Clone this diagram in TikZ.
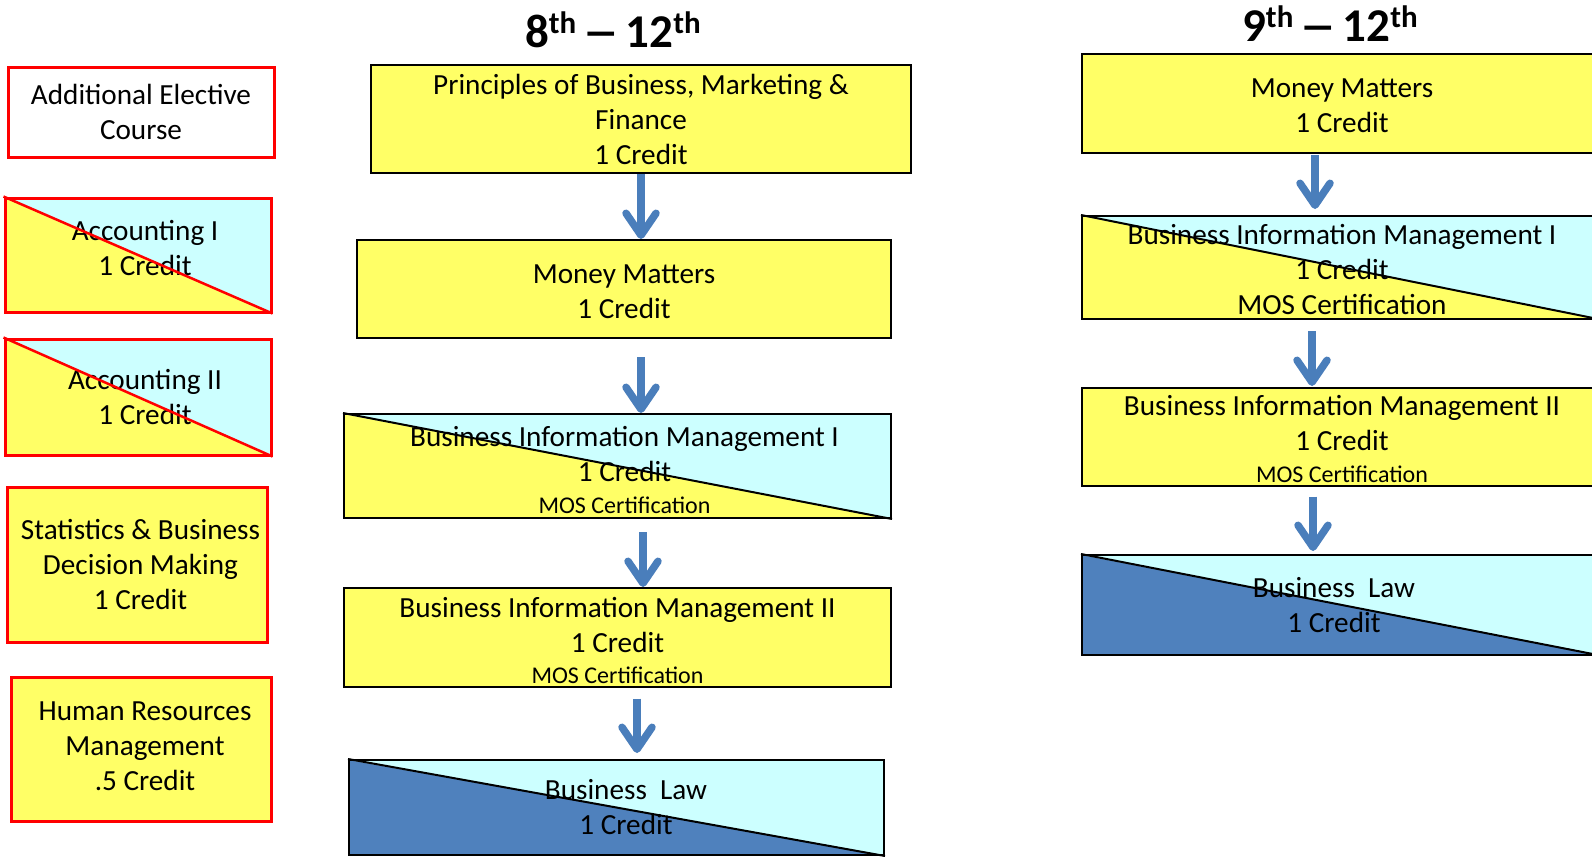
\documentclass[tikz,border=0pt]{standalone}
\usepackage{fontspec}
\setmainfont{Carlito}
\usetikzlibrary{arrows.meta}
\definecolor{yfill}{HTML}{FFFF66}
\definecolor{cfill}{HTML}{CCFFFF}
\definecolor{bfill}{HTML}{4F81BD}
\definecolor{arrowblue}{HTML}{4A7EBB}
\definecolor{redline}{HTML}{FF0000}
\newcommand\mainsz{\fontsize{29.2}{35}\selectfont}
\newcommand\smallsz{\fontsize{24}{29}\selectfont}
\newcommand\supth{\raisebox{14pt}{\fontsize{31}{33}\selectfont th}}
\newcommand\tdash{\hspace{6pt}\scalebox{1.6}[1]{–}\hspace{6pt}}
\begin{document}
\begin{tikzpicture}[x=1pt,y=-1pt,
  box/.style={draw=black, line width=2pt, fill=yfill, align=center, font=\mainsz, inner sep=0pt},
  redbox/.style={box, draw=redline, line width=3pt},
  halfcyan/.style={path picture={\fill[cfill] (path picture bounding box.north west) -- (path picture bounding box.north east) -- (path picture bounding box.south east) -- cycle;}},
  flow/.style={draw=arrowblue, line width=7.5pt, -{Straight Barb[length=22pt,width=30pt,line width=7.5pt,round]}},
  title/.style={font=\bfseries\fontsize{47}{56}\selectfont, anchor=base, inner sep=0pt},
  diag/.style={line width=2pt},
  rdiag/.style={line width=2.5pt, draw=redline},
]
\clip (0,0) rectangle (1592,857);
\fill[white] (0,0) rectangle (1592,857);

% titles
\node[title] (t1) at (613,47) {8\supth\tdash12\supth};
\node[title] (t2) at (1330,41) {9\supth\tdash12\supth};

% left column
\node[redbox, fill=white, minimum width=266pt, minimum height=90pt] (ae) at (141,112) {Additional Elective\\Course};
\node[redbox, halfcyan, minimum width=266pt, minimum height=114pt] (acc1) at (138,255) {\hspace*{14pt}Accounting I\\\hspace*{14pt}1 Credit\rule[-14pt]{0pt}{14pt}};
\node[redbox, halfcyan, minimum width=266pt, minimum height=116pt] (acc2) at (138,397) {\hspace*{14pt}Accounting II\\\hspace*{14pt}1 Credit};
\node[redbox, minimum width=260pt, minimum height=155pt] (stat) at (137,564.5) {\hspace*{7pt}Statistics \& Business\\\hspace*{7pt}Decision Making\\\hspace*{7pt}1 Credit};
\node[redbox, minimum width=260pt, minimum height=144pt] (hr) at (141,749) {\hspace*{8pt}Human Resources\\\hspace*{8pt}Management\\\hspace*{8pt}.5 Credit\rule[-6pt]{0pt}{6pt}};

% middle column
\node[box, minimum width=540pt, minimum height=108pt] (p1) at (641,119) {Principles of Business, Marketing \&\\Finance\\1 Credit};
\node[box, minimum width=534pt, minimum height=98pt] (mm) at (624,289) {\rule{0pt}{24.8pt}Money Matters\\1 Credit};
\node[box, halfcyan, minimum width=547pt, minimum height=104pt] (bim1) at (617.5,466) {\rule{0pt}{27.7pt}\hspace*{14pt}Business Information Management I\\\hspace*{14pt}1 Credit\\[-3.5pt]\hspace*{14pt}{\smallsz MOS Certification}};
\node[box, minimum width=547pt, minimum height=99pt] (bim2) at (617.5,637.5) {\rule{0pt}{25.7pt}Business Information Management II\\1 Credit\\[-3.5pt]{\smallsz MOS Certification}};
\node[box, fill=bfill, halfcyan, minimum width=535pt, minimum height=95pt] (bl1) at (616.5,807.5) {\hspace*{19pt}Business\ \ Law\\\hspace*{19pt}1 Credit};

% right column
\node[box, minimum width=520pt, minimum height=99pt] (mm2) at (1342,103.5) {\rule{0pt}{23.8pt}Money Matters\\1 Credit};
\node[box, halfcyan, minimum width=520pt, minimum height=103pt] (bim1r) at (1342,267.5) {\rule{0pt}{24.7pt}Business Information Management I\\1 Credit\\MOS Certification};
\node[box, minimum width=520pt, minimum height=98pt] (bim2r) at (1342,437) {\rule{0pt}{23.7pt}Business Information Management II\\1 Credit\\[-3.5pt]{\smallsz MOS Certification}};
\node[box, fill=bfill, halfcyan, minimum width=520pt, minimum height=100pt] (bl2) at (1342,605) {\hspace*{-16pt}Business\ \ Law\\\hspace*{-16pt}1 Credit};

% diagonals
\draw[rdiag] (acc1.north west) -- (acc1.south east);
\draw[rdiag] (acc2.north west) -- (acc2.south east);
\draw[diag] (bim1.north west) -- (bim1.south east);
\draw[diag] (bl1.north west) -- (bl1.south east);
\draw[diag] (bim1r.north west) -- (bim1r.south east);
\draw[diag] (bl2.north west) -- (bl2.south east);

% arrows
\draw[flow] (p1.south) -- (p1.south |- mm.north);
\draw[flow, shorten <=18pt] ([xshift=17pt]mm.south) -- ([xshift=17pt]mm.south |- bim1.north);
\draw[flow, shorten <=13pt] ([xshift=25.5pt]bim1.south) -- ([xshift=25.5pt]bim1.south |- bim2.north);
\draw[flow, shorten <=10.5pt, shorten >=6pt] ([xshift=19.5pt]bim2.south) -- ([xshift=19.5pt]bim2.south |- bl1.north);
\draw[flow, shorten <=1pt, shorten >=6pt] ([xshift=-27pt]mm2.south) -- ([xshift=-27pt]mm2.south |- bim1r.north);
\draw[flow, shorten <=11pt, shorten >=1pt] ([xshift=-30pt]bim1r.south) -- ([xshift=-30pt]bim1r.south |- bim2r.north);
\draw[flow, shorten <=9.5pt, shorten >=3pt] ([xshift=-29pt]bim2r.south) -- ([xshift=-29pt]bim2r.south |- bl2.north);
\end{tikzpicture}
\end{document}
